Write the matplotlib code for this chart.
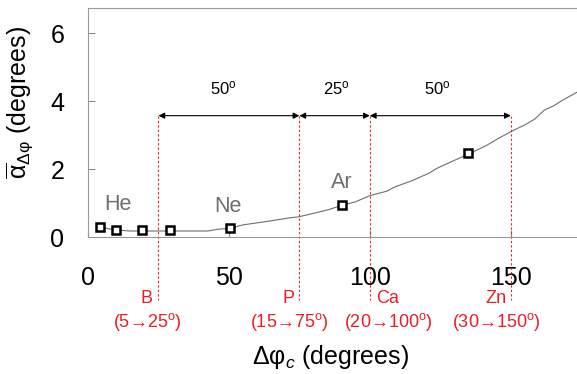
import matplotlib
matplotlib.use('Agg')
import matplotlib.pyplot as plt

plt.rcParams['font.family'] = ['Liberation Sans', 'DejaVu Sans']
plt.rcParams['mathtext.fontset'] = 'custom'
plt.rcParams['mathtext.rm'] = 'Liberation Sans'
plt.rcParams['mathtext.it'] = 'Liberation Sans:italic'
plt.rcParams['mathtext.bf'] = 'Liberation Sans:bold'

# calculated curve
curve_x = [4.3, 9.9, 15, 25, 35, 42.5, 46, 50.4, 55, 60, 65, 71, 75, 80, 85, 90,
           95, 100, 106, 109, 115, 121, 124, 129, 135, 141.5, 146, 150.5, 155,
           158.5, 162, 165, 168.5, 173.5]
curve_y = [0.29, 0.21, 0.18, 0.18, 0.18, 0.18, 0.23, 0.26, 0.36, 0.42, 0.48, 0.56,
           0.6, 0.7, 0.8, 0.93, 1.04, 1.22, 1.35, 1.48, 1.66, 1.88, 2.03, 2.22,
           2.44, 2.7, 2.92, 3.12, 3.3, 3.47, 3.74, 3.85, 4.03, 4.26]

# measured points
meas_x = [4.3, 9.9, 19, 29, 50.4, 90, 135]
meas_y = [0.29, 0.21, 0.21, 0.21, 0.28, 0.95, 2.46]

gases = ['He', 'Ne', 'Ar']
gas_x = [10.6, 49.6, 90]
gas_y = [0.95, 0.9, 1.62]

# cutoff lines and ions
cut_x = [25, 75, 100, 150]
ions = ['B', 'P', 'Ca', 'Zn']
ion_ranges = ['(5\u219225$^{\\rm o}$)', '(15\u219275$^{\\rm o}$)',
              '(20\u2192100$^{\\rm o}$)', '(30\u2192150$^{\\rm o}$)']
ion_label_x = [20.9, 71.3, 106.4, 144.7]
span_labels = ['50$^{\\rm o}$', '25$^{\\rm o}$', '50$^{\\rm o}$']
span_label_x = [48, 88, 124]

red = '#ec1c24'
grey = '#6e6e6e'

fig = plt.figure(figsize=(5.77, 3.74), dpi=100)
ax = fig.add_axes([0.1525, 0.366, 0.8475, 0.613])

ax.plot(curve_x, curve_y, color=grey, lw=0.8)
ax.plot(meas_x, meas_y, 's', ms=6, mfc='white', mec='black', mew=1.8, zorder=5)

for g, gx, gy in zip(gases, gas_x, gas_y):
    ax.text(gx, gy, g, color=grey, fontsize=15.5, ha='center', va='center')

arrow_y = 3.57
for xc in cut_x:
    ax.plot([xc, xc], [arrow_y, -1.85], color=red, lw=0.8, ls=(0, (2, 2)),
            clip_on=False)
for i in range(len(cut_x) - 1):
    ax.annotate('', xy=(cut_x[i + 1], arrow_y), xytext=(cut_x[i], arrow_y),
                arrowprops=dict(arrowstyle='<|-|>', color='black', lw=0.8,
                                mutation_scale=9, shrinkA=0, shrinkB=0))
    ax.text(span_label_x[i], 4.38, span_labels[i], fontsize=12, ha='center',
            va='center')

for name, rng, lx in zip(ions, ion_ranges, ion_label_x):
    ax.text(lx, -1.79, name, color=red, fontsize=13, ha='center', va='center',
            clip_on=False)
    ax.text(lx, -2.5, rng, color=red, fontsize=13, ha='center', va='center',
            clip_on=False)

ax.set_xlim(0, 173.5)
ax.set_ylim(0, 6.74)
ax.set_xticks([0, 50, 100, 150])
ax.set_yticks([0, 2, 4, 6])
ax.tick_params(direction='in', length=5, color='#888888', labelsize=18)
ax.tick_params(axis='x', pad=21)
ax.tick_params(axis='y', pad=17)
for s in ['left', 'bottom', 'top']:
    ax.spines[s].set_color('#999999')
ax.spines['right'].set_visible(False)

ax.set_ylabel('$\\overline{\\mathrm{\u03b1}}_{\\mathrm{\u0394\u03c6}}$ (degrees)',
              fontsize=18)
ax.yaxis.label.set_va('center')
ax.yaxis.set_label_coords(-0.139, 0.585)
ax.set_xlabel('\u0394\u03c6$_c$ (degrees)', fontsize=18)
ax.xaxis.label.set_va('center')
ax.xaxis.set_label_coords(0.495, -0.525)

fig.savefig('out.png', dpi=100)
